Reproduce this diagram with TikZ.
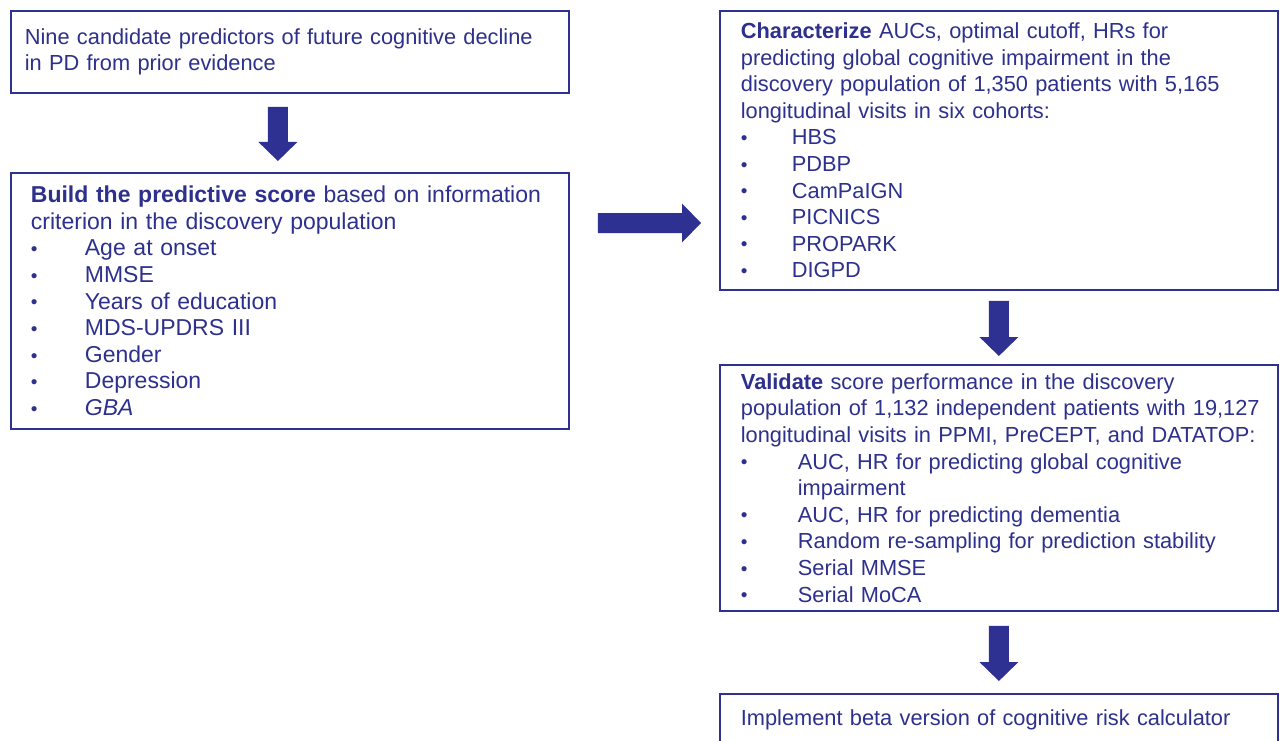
\documentclass[tikz,border=0pt]{standalone}
\usepackage{fontspec}
\setmainfont{Liberation Sans}
\usetikzlibrary{calc}
\definecolor{navy}{RGB}{46,49,146}
\definecolor{txtnavy}{RGB}{45,48,140}
\newcommand\tline[1]{\mbox{#1}}
\newcommand\bitem[2]{\mbox{\makebox[#1][l]{\raisebox{0.3pt}{\fontsize{19}{19}\selectfont\textbullet}}#2}}
\newcommand\downconn[5]{% from, to, x offset, top gap, tip gap
  \fill[arrowfill] let \p1=(#1.south), \p2=(#2.north) in
   (\x1+#3-10pt,\y1-#4) -- (\x1+#3+10pt,\y1-#4) -- (\x1+#3+10pt,\y2+#5+19pt)
   -- (\x1+#3+19.5pt,\y2+#5+19pt) -- (\x1+#3,\y2+#5) -- (\x1+#3-19.5pt,\y2+#5+19pt)
   -- (\x1+#3-10pt,\y2+#5+19pt) -- cycle;}
\tikzset{
  box/.style={draw=navy, line width=1.8pt, anchor=north west, align=left,
    text=txtnavy, font=\fontsize{21.8}{26.6}\selectfont, inner ysep=0pt},
  bigbox/.style={box, font=\fontsize{23}{26.6}\selectfont},
  arrowfill/.style={fill=navy}
}
\begin{document}
\begin{tikzpicture}[x=1pt,y=-1pt]
\clip (0,0) rectangle (1280,741);
\fill[white] (0,0) rectangle (1280,741);

\node[box, inner xsep=14pt, text width=530pt, minimum height=82pt] (b1) at (10,10)
 {\tline{Nine candidate predictors of future cognitive decline}\\
  \tline{in PD from prior evidence}};

\node[bigbox, inner xsep=20pt, text width=518pt, minimum height=256pt] (b2) at (10,172)
 {\tline{\textbf{Build the predictive score} based on information}\\
  \tline{criterion in the discovery population}\\
  \bitem{54pt}{Age at onset}\\
  \bitem{54pt}{MMSE}\\
  \bitem{54pt}{Years of education}\\
  \bitem{54pt}{MDS-UPDRS III}\\
  \bitem{54pt}{Gender}\\
  \bitem{54pt}{Depression}\\
  \bitem{54pt}{\textit{GBA}}};

\node[box, inner xsep=21pt, text width=516pt, minimum height=279pt] (b3) at (719,10)
 {\tline{\textbf{Characterize} AUCs, optimal cutoff, HRs for}\\
  \tline{predicting global cognitive impairment in the}\\
  \tline{discovery population of 1,350 patients with 5,165}\\
  \tline{longitudinal visits in six cohorts:}\\
  \bitem{51pt}{HBS}\\
  \bitem{51pt}{PDBP}\\
  \bitem{51pt}{CamPaIGN}\\
  \bitem{51pt}{PICNICS}\\
  \bitem{51pt}{PROPARK}\\
  \bitem{51pt}{DIGPD}};

\node[box, inner xsep=21pt, text width=516pt, minimum height=246pt] (b4) at (719,364)
 {\tline{\textbf{Validate} score performance in the discovery}\\
  \tline{population of 1,132 independent patients with 19,127}\\
  \tline{longitudinal visits in PPMI, PreCEPT, and DATATOP:}\\
  \bitem{57pt}{AUC, HR for predicting global cognitive}\\
  \tline{\hspace*{57pt}impairment}\\
  \bitem{57pt}{AUC, HR for predicting dementia}\\
  \bitem{57pt}{Random re-sampling for prediction stability}\\
  \bitem{57pt}{Serial MMSE}\\
  \bitem{57pt}{Serial MoCA}};

\node[box, inner xsep=21pt, text width=516pt, minimum height=82pt] (b5) at (719,693)
 {\tline{Implement beta version of cognitive risk calculator}\\
  \tline{\strut}};

\downconn{b1}{b2}{-12pt}{13pt}{11pt}
\downconn{b3}{b4}{0pt}{10pt}{8pt}
\downconn{b4}{b5}{0pt}{14pt}{12pt}

\fill[arrowfill] let \p1=(b2.north east), \p2=(b3.north west) in
  (\x1+28pt,\y1-41pt) -- (\x2-37pt,\y1-41pt) -- (\x2-37pt,\y1-31.5pt)
  -- (\x2-18pt,\y1-51pt) -- (\x2-37pt,\y1-70.5pt) -- (\x2-37pt,\y1-61pt)
  -- (\x1+28pt,\y1-61pt) -- cycle;
\end{tikzpicture}
\end{document}
